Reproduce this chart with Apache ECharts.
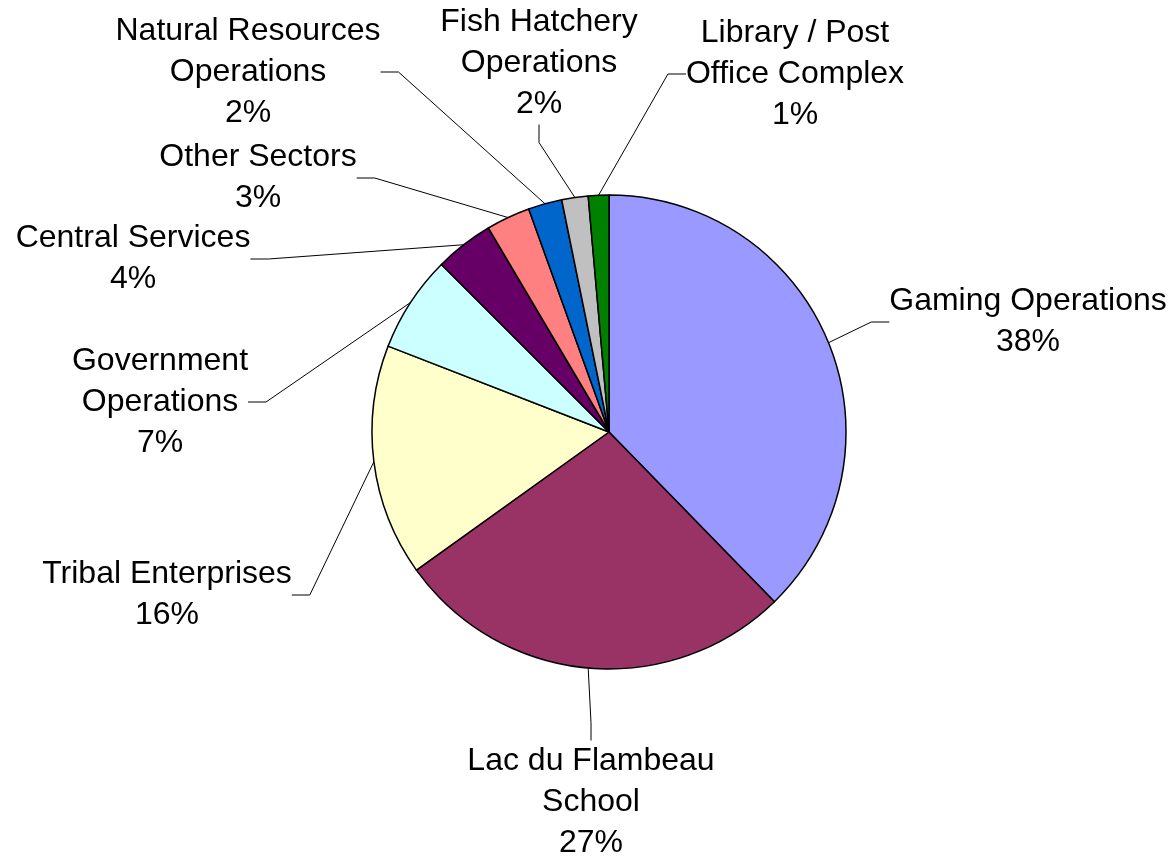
<!DOCTYPE html>
<html>
<head>
<meta charset="utf-8">
<script src="https://cdn.jsdelivr.net/npm/echarts@6/dist/echarts.min.js"></script>
<style>
html,body{margin:0;padding:0;background:#fff;}
#chart{width:1175px;height:859px;}
</style>
</head>
<body>
<div id="chart"></div>
<script>
// Data
const categories = [
  'Gaming Operations',
  'Lac du Flambeau\nSchool',
  'Tribal Enterprises',
  'Government\nOperations',
  'Central Services',
  'Other Sectors',
  'Natural Resources\nOperations',
  'Fish Hatchery\nOperations',
  'Library / Post\nOffice Complex'
];
const values = [37.7, 27.4, 15.8, 6.6, 4.0, 3.0, 2.3, 1.8, 1.4];

// Styling
const colors = ['#9999FF', '#993366', '#FFFFCC', '#CCFFFF', '#660066', '#FF8080', '#0066CC', '#C0C0C0', '#008000'];
// label block centres (layout only)
const labelPlacement = [
  [1028, 322], [591, 802], [167, 595], [160, 402], [133, 259],
  [258, 178], [248, 72], [539, 63], [795, 74]
];

const chart = echarts.init(document.getElementById('chart'), null, {renderer: 'canvas'});
chart.setOption({
  animation: false,
  backgroundColor: '#ffffff',
  series: [{
    type: 'pie',
    center: [609, 432],
    radius: 237,
    startAngle: 90,
    clockwise: true,
    avoidLabelOverlap: false,
    percentPrecision: 0,
    data: categories.map((c, i) => ({name: c, value: values[i], itemStyle: {color: colors[i]}})),
    itemStyle: {borderColor: '#000000', borderWidth: 1.5},
    emphasis: {disabled: true},
    label: {
      show: true,
      position: 'outside',
      formatter: '{b}\n{d}%',
      color: '#000000',
      fontFamily: 'Liberation Sans, Arial, sans-serif',
      fontSize: 32,
      lineHeight: 41,
      align: 'center'
    },
    labelLine: {
      show: true,
      length: 20,
      length2: 18,
      smooth: false,
      lineStyle: {color: '#000000', width: 1}
    },
    labelLayout: function (params) {
      const p = labelPlacement[params.dataIndex];
      return {x: p[0], y: p[1], align: 'center', verticalAlign: 'middle'};
    }
  }]
});
</script>
</body>
</html>
